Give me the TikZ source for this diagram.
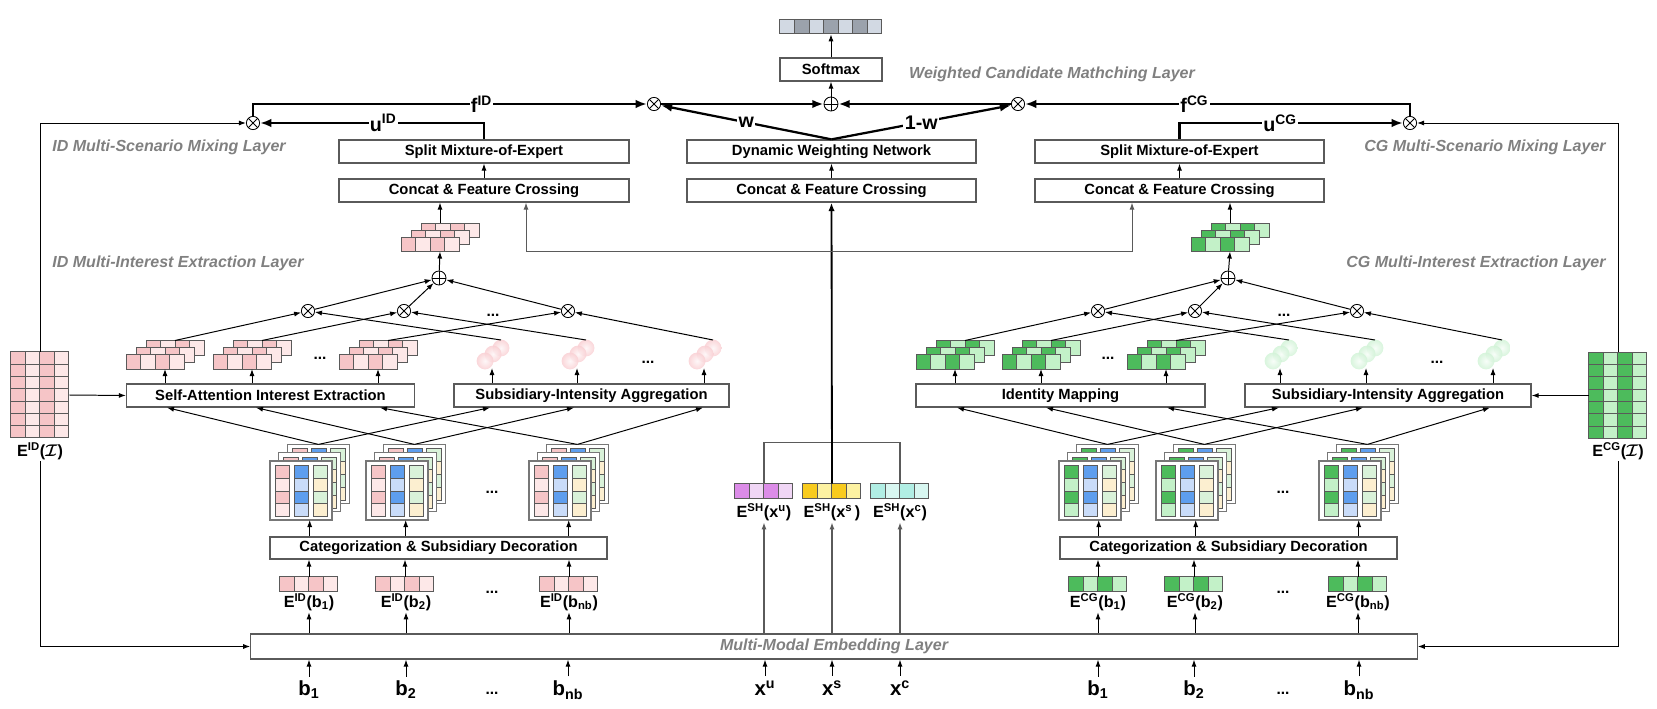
\documentclass[tikz,border=0pt]{standalone}
\usepackage{bm}
\usepackage{fontspec}
\setmainfont{Liberation Sans}
\usetikzlibrary{positioning,calc,arrows.meta}

\definecolor{idpink}{HTML}{F6C5C7}
\definecolor{idpinklt}{HTML}{FDE8E8}
\definecolor{cggreen}{HTML}{4DBB5C}
\definecolor{cggreenlt}{HTML}{C3F1C8}
\definecolor{catblue}{HTML}{5E9EEE}
\definecolor{catbluelt}{HTML}{C9DCF9}
\definecolor{catmint}{HTML}{D9F2D9}
\definecolor{catcream}{HTML}{FCEFD0}
\definecolor{smdark}{HTML}{9BA2AC}
\definecolor{smlight}{HTML}{D2D9E3}
\definecolor{shviolet}{HTML}{DC8CE8}
\definecolor{shvioletlt}{HTML}{F0D6F5}
\definecolor{shgold}{HTML}{F8CB1E}
\definecolor{shgoldlt}{HTML}{FDF2A2}
\definecolor{shteal}{HTML}{B1EEE4}
\definecolor{shteallt}{HTML}{D8F7F1}
\definecolor{blobpink}{HTML}{F7BFC4}
\definecolor{blobgreen}{HTML}{C2EFC9}
\definecolor{layergray}{HTML}{808080}
\definecolor{boxgray}{HTML}{5A5A5A}
\definecolor{framegray}{HTML}{777777}

% one embedding vector of four cells
\newcommand{\embvec}[5]{%
  \node[inner sep=0pt,minimum width=1.45cm,minimum height=0.375cm] (#1) at (#2,#3) {};
  \foreach \kk/\cl in {0/#4,1/#5,2/#4,3/#5}
    \draw[cell,fill=\cl] ($(#1.north west)+(\kk*14.5,0)$) rectangle ++(14.5,15);
}
% three stacked interest vectors
\newcommand{\intstack}[5]{%
  \foreach \sl in {2,1,0}
    \foreach \kk/\cl in {0/#4,1/#5,2/#4,3/#5}
      \draw[cell,fill=\cl] (#2+\sl*10+\kk*14.5,#3-\sl*7) rectangle ++(14.5,14.5);
  \coordinate (#1-t) at (#2+49,#3-14);
  \coordinate (#1-n) at (#2+39,#3-14);
  \coordinate (#1-b) at (#2+39,#3+14.5);
}
% three stacked decorated behaviour matrices
\newcommand{\catstack}[5]{%
  \foreach \sl in {2,1,0}{
    \begin{scope}[shift={(#2+\sl*8.7,#3-\sl*8.3)}]
      \draw[framegray,line width=0.9pt,fill=white] (0,0) rectangle (62,59);
      \foreach \rw/\ccA/\ccB/\ccC in {0/#4/catblue/catmint,1/#5/catbluelt/catcream,2/#4/catblue/catmint,3/#5/catbluelt/catcream}{
        \draw[cell,fill=\ccA] (5,4.3+\rw*12.8) rectangle ++(14.5,12.8);
        \draw[cell,fill=\ccB] (24,4.3+\rw*12.8) rectangle ++(14.5,12.8);
        \draw[cell,fill=\ccC] (43,4.3+\rw*12.8) rectangle ++(14.5,12.8);
      }
    \end{scope}
  }
  \coordinate (#1-t) at (#2+48.4,#3-16.6);
  \coordinate (#1-b) at (#2+39.7,#3+59);
}
% intensity blob
\newcommand{\blob}[4]{%
  \foreach \dx/\dy in {9/-7,1/-1,-7/6}
    \shade[inner color=#4!15,outer color=#4!75,opacity=0.85] (#2+\dx,#3+\dy) circle [radius=0.21cm];
  \coordinate (#1-t) at (#2+9,#3-15);
  \coordinate (#1-b) at (#2,#3+13);
}
% item embedding table
\newcommand{\bigmat}[5]{%
  \node[inner sep=0pt,minimum width=1.45cm,minimum height=2.15cm] (#1) at (#2,#3) {};
  \foreach \rw in {0,...,6}
    \foreach \kk/\cl in {0/#4,1/#5,2/#4,3/#5}
      \draw[cell,fill=\cl] ($(#1.north west)+(\kk*14.5,\rw*12.3)$) rectangle ++(14.5,12.3);
}
\newcommand{\itemset}{$\bm{\mathcal{I}}$}

\begin{document}
\begin{tikzpicture}[
    x=0.025cm,y=-0.025cm,
    layerbox/.style={draw=boxgray,line width=0.9pt,fill=white,minimum height=0.575cm,inner sep=0pt,font=\fontsize{10.5}{12}\selectfont\bfseries},
    layername/.style={text=layergray,inner sep=1pt,font=\fontsize{11.4}{13}\selectfont\bfseries\itshape},
    cell/.style={draw=boxgray,line width=0.5pt},
    otimes/.style={circle,draw,line width=0.6pt,fill=white,inner sep=0pt,minimum size=0.33cm,path picture={\draw[line width=0.6pt] (path picture bounding box.north west) -- (path picture bounding box.south east) (path picture bounding box.north east) -- (path picture bounding box.south west);}},
    oplus/.style={circle,draw,line width=0.6pt,fill=white,inner sep=0pt,minimum size=0.35cm,path picture={\draw[line width=0.6pt] (path picture bounding box.north) -- (path picture bounding box.south) (path picture bounding box.east) -- (path picture bounding box.west);}},
    lbl/.style={inner sep=1pt,font=\fontsize{11.5}{13}\selectfont\bfseries},
    inp/.style={inner sep=1pt,font=\fontsize{14.5}{16}\selectfont\bfseries},
    dots/.style={inner sep=1pt,font=\fontsize{11}{12}\selectfont\bfseries},
    wlabel/.style={fill=white,inner sep=1pt,font=\fontsize{14}{16}\selectfont\bfseries},
    conn/.style={line width=0.7pt,-{Latex[length=5pt,width=3.6pt]}},
    grayconn/.style={conn,draw=boxgray},
    thickconn/.style={line width=1.6pt,-{Latex[length=8pt,width=6pt]}}
]
    \useasboundingbox (0,0) rectangle (1657,709);

    % matching layer
    \node[inner sep=0pt,minimum width=2.55cm,minimum height=0.35cm] (probs) at (831,27) {};
    \foreach \kk/\cl in {0/smlight,1/smdark,2/smlight,3/smdark,4/smlight,5/smdark,6/smlight}
      \draw[cell,fill=\cl] ($(probs.north west)+(\kk*14.57,0)$) rectangle ++(14.57,14);
    \node[layerbox,minimum width=2.55cm] (softmax) at (831,69.5) {Softmax};
    \node[oplus] (sumtop) at (831,104) {};
    \node[otimes] (wid) at (654,104) {};
    \node[otimes] (wcg) at (1018,104) {};
    \node[otimes] (mixid) at (253,123) {};
    \node[otimes] (mixcg) at (1410,123) {};
    \node[layername] (nwcm) at (1052,74) {Weighted Candidate Mathching Layer};
    \node[layername] (nmixid) at (169,147) {ID Multi-Scenario Mixing Layer};
    \node[layername] (nmixcg) at (1485,147) {CG Multi-Scenario Mixing Layer};

    \node[layerbox,minimum width=7.25cm] (smoeid) at (484,151.5) {Split Mixture-of-Expert};
    \node[layerbox,minimum width=7.25cm] (concatid) at (484,190.5) {Concat \& Feature Crossing};
    \node[layerbox,minimum width=7.225cm] (dwn) at (831.5,151.5) {Dynamic Weighting Network};
    \node[layerbox,minimum width=7.225cm] (concatsh) at (831.5,190.5) {Concat \& Feature Crossing};
    \node[layerbox,minimum width=7.225cm] (smoecg) at (1179.5,151.5) {Split Mixture-of-Expert};
    \node[layerbox,minimum width=7.225cm] (concatcg) at (1179.5,190.5) {Concat \& Feature Crossing};

    % multi-interest extraction
    \node[layername] (nextid) at (178,263) {ID Multi-Interest Extraction Layer};
    \node[layername] (nextcg) at (1476,263) {CG Multi-Interest Extraction Layer};
    \intstack{outid}{401}{237}{idpink}{idpinklt}
    \intstack{outcg}{1191}{237}{cggreen}{cggreenlt}
    \node[oplus] (sumid) at (439,278) {};
    \node[oplus] (sumcg) at (1228,278) {};
    \node[otimes] (mulid1) at (308,311) {};
    \node[otimes] (mulid2) at (404,311) {};
    \node[otimes] (mulid3) at (568,311) {};
    \node[otimes] (mulcg1) at (1098,311) {};
    \node[otimes] (mulcg2) at (1195,311) {};
    \node[otimes] (mulcg3) at (1357,311) {};
    \node[dots] (dmulid) at (493,315) {...};
    \node[dots] (dmulcg) at (1284,315) {...};

    \intstack{isid1}{126}{354.5}{idpink}{idpinklt}
    \intstack{isid2}{213}{354.5}{idpink}{idpinklt}
    \intstack{isid3}{339}{354.5}{idpink}{idpinklt}
    \intstack{iscg1}{916}{354.5}{cggreen}{cggreenlt}
    \intstack{iscg2}{1002}{354.5}{cggreen}{cggreenlt}
    \intstack{iscg3}{1127}{354.5}{cggreen}{cggreenlt}
    \node[dots] (disid) at (320,358) {...};
    \node[dots] (discg) at (1108,358) {...};
    \blob{blid1}{492}{355}{blobpink}
    \blob{blid2}{577}{355}{blobpink}
    \blob{blid3}{704}{355}{blobpink}
    \blob{blcg1}{1280}{355}{blobgreen}
    \blob{blcg2}{1366}{355}{blobgreen}
    \blob{blcg3}{1493}{355}{blobgreen}
    \node[dots] (dblid) at (648,362) {...};
    \node[dots] (dblcg) at (1437,362) {...};

    \node[layerbox,minimum width=7.2cm] (sa) at (270.5,395.5) {Self-Attention Interest Extraction};
    \node[layerbox,minimum width=6.875cm] (siaid) at (591.5,395.5) {Subsidiary-Intensity Aggregation};
    \node[layerbox,minimum width=7.225cm] (im) at (1060.5,395.5) {Identity Mapping};
    \node[layerbox,minimum width=7.15cm] (siacg) at (1388,395.5) {Subsidiary-Intensity Aggregation};

    \bigmat{eidI}{40}{395}{idpink}{idpinklt}
    \bigmat{ecgI}{1618}{395.5}{cggreen}{cggreenlt}
    \node[lbl] (leidI) at (40,451) {E\textsuperscript{ID}(\itemset)};
    \node[lbl] (lecgI) at (1618,451) {E\textsuperscript{CG}(\itemset)};

    % categorization
    \catstack{csid1}{270}{461}{idpink}{idpinklt}
    \catstack{csid2}{366}{461}{idpink}{idpinklt}
    \catstack{csid3}{529}{461}{idpink}{idpinklt}
    \catstack{cscg1}{1059}{461}{cggreen}{cggreenlt}
    \catstack{cscg2}{1156}{461}{cggreen}{cggreenlt}
    \catstack{cscg3}{1319}{461}{cggreen}{cggreenlt}
    \node[dots] (dcsid) at (492,492) {...};
    \node[dots] (dcscg) at (1283,492) {...};
    \node[layerbox,minimum width=8.425cm,minimum height=0.55cm] (catid) at (438.5,548) {Categorization \& Subsidiary Decoration};
    \node[layerbox,minimum width=8.425cm,minimum height=0.55cm] (catcg) at (1228.5,548) {Categorization \& Subsidiary Decoration};

    % embeddings
    \embvec{eidb1}{309}{584.5}{idpink}{idpinklt}
    \embvec{eidb2}{405}{584.5}{idpink}{idpinklt}
    \embvec{eidb3}{569}{584.5}{idpink}{idpinklt}
    \embvec{ecgb1}{1098}{584.5}{cggreen}{cggreenlt}
    \embvec{ecgb2}{1194}{584.5}{cggreen}{cggreenlt}
    \embvec{ecgb3}{1358}{584.5}{cggreen}{cggreenlt}
    \node[lbl] (leidb1) at (309,602) {E\textsuperscript{ID}(b\textsubscript{1})};
    \node[lbl] (leidb2) at (406,602) {E\textsuperscript{ID}(b\textsubscript{2})};
    \node[lbl] (leidb3) at (569,602) {E\textsuperscript{ID}(b\textsubscript{nb})};
    \node[lbl] (lecgb1) at (1098,602) {E\textsuperscript{CG}(b\textsubscript{1})};
    \node[lbl] (lecgb2) at (1195,602) {E\textsuperscript{CG}(b\textsubscript{2})};
    \node[lbl] (lecgb3) at (1358,602) {E\textsuperscript{CG}(b\textsubscript{nb})};
    \node[dots] (deid) at (492,592) {...};
    \node[dots] (decg) at (1283,592) {...};

    \embvec{eshu}{764}{491.5}{shviolet}{shvioletlt}
    \embvec{eshs}{832}{491.5}{shgold}{shgoldlt}
    \embvec{eshc}{900}{491.5}{shteal}{shteallt}
    \node[lbl] (leshu) at (764,512) {E\textsuperscript{SH}(x\textsuperscript{u})};
    \node[lbl] (leshs) at (832,512) {E\textsuperscript{SH}(x\textsuperscript{s}\,)};
    \node[lbl] (leshc) at (900,512) {E\textsuperscript{SH}(x\textsuperscript{c})};

    \node[layerbox,minimum width=29.15cm,minimum height=0.625cm,text=layergray,font=\fontsize{11.4}{13}\selectfont\bfseries\itshape] (embed) at (834,646.5) {Multi-Modal Embedding Layer};

    % inputs
    \node[inp] (inb1) at (309,690) {b\textsubscript{1}};
    \node[inp] (inb2) at (406,690) {b\textsubscript{2}};
    \node[inp] (inb3) at (568,690) {b\textsubscript{nb}};
    \node[dots] (dinid) at (492,693) {...};
    \node[inp] (inxu) at (765,688) {x\textsuperscript{u}};
    \node[inp] (inxs) at (832,688) {x\textsuperscript{s}};
    \node[inp] (inxc) at (900,688) {x\textsuperscript{c}};
    \node[inp] (inc1) at (1098,690) {b\textsubscript{1}};
    \node[inp] (inc2) at (1194,690) {b\textsubscript{2}};
    \node[inp] (inc3) at (1359,690) {b\textsubscript{nb}};
    \node[dots] (dincg) at (1283,693) {...};

    % connectors, bottom up
    \foreach \nn in {inb1,inb2,inb3,inxu,inxs,inxc,inc1,inc2,inc3}
      \draw[conn,shorten <=2pt] (\nn.north) -- (embed.south -| \nn.north);
    \foreach \nn in {leidb1,leidb2,leidb3,lecgb1,lecgb2,lecgb3}
      \draw[conn] (embed.north -| \nn.south) -- (\nn.south);
    \foreach \nn in {leshu,leshs,leshc}
      \draw[grayconn,line width=0.9pt] (embed.north -| \nn.south) -- (\nn.south);
    \foreach \vv in {eidb1,eidb2,eidb3}
      \draw[conn] (\vv.north) -- (catid.south -| \vv.north);
    \foreach \vv in {ecgb1,ecgb2,ecgb3}
      \draw[conn] (\vv.north) -- (catcg.south -| \vv.north);
    \foreach \ss in {csid1,csid2,csid3}
      \draw[conn] (catid.north -| \ss-b) -- (\ss-b);
    \foreach \ss in {cscg1,cscg2,cscg3}
      \draw[conn] (catcg.north -| \ss-b) -- (\ss-b);

    \draw[conn] (csid1-t) -- (sa.south -| 167,0);
    \draw[conn] (csid2-t) -- (sa.south -| 256,0);
    \draw[conn] (csid3-t) -- (sa.south -| 380,0);
    \draw[conn] (csid1-t) -- (siaid.south -| 490,0);
    \draw[conn] (csid2-t) -- (siaid.south -| 574,0);
    \draw[conn] (csid3-t) -- (siaid.south -| 703,0);
    \draw[conn] (cscg1-t) -- (im.south -| 957,0);
    \draw[conn] (cscg2-t) -- (im.south -| 1046,0);
    \draw[conn] (cscg3-t) -- (im.south -| 1167,0);
    \draw[conn] (cscg1-t) -- (siacg.south -| 1279,0);
    \draw[conn] (cscg2-t) -- (siacg.south -| 1363,0);
    \draw[conn] (cscg3-t) -- (siacg.south -| 1490,0);

    \foreach \ii in {1,2,3}{
      \draw[conn] (sa.north -| isid\ii-b) -- (isid\ii-b);
      \draw[conn] (siaid.north -| blid\ii-b) -- (blid\ii-b);
      \draw[conn] (im.north -| iscg\ii-b) -- (iscg\ii-b);
      \draw[conn] (siacg.north -| blcg\ii-b) -- (blcg\ii-b);
      \draw[conn] (isid\ii-t) -- (mulid\ii);
      \draw[conn] (blid\ii-t) -- (mulid\ii);
      \draw[conn] (iscg\ii-t) -- (mulcg\ii);
      \draw[conn] (blcg\ii-t) -- (mulcg\ii);
      \draw[conn] (mulid\ii) -- (sumid);
      \draw[conn] (mulcg\ii) -- (sumcg);
    }
    \draw[conn] (sumid) -- (outid-b);
    \draw[conn] (sumcg) -- (outcg-b);
    \draw[conn] (outid-n) -- (concatid.south -| outid-n);
    \draw[conn] (outcg-n) -- (concatcg.south -| outcg-n);

    \draw[conn] (eidI.east) -- (sa.west);
    \draw[conn] (ecgI.west) -- (siacg.east);

    % shared features
    \draw[boxgray,line width=0.9pt] (eshu.north) -- ++(0,-41) -| (eshc.north);
    \coordinate (split) at (832,251);
    \draw[line width=1.3pt,-{Latex[length=6pt,width=4.5pt]}] (eshs.north) -- (concatsh.south);
    \draw[grayconn] (split) -| (concatid.south -| 526,0);
    \draw[grayconn] (split) -| (concatcg.south -| 1132,0);

    \draw[conn] (concatid) -- (smoeid);
    \draw[conn] (concatsh) -- (dwn);
    \draw[conn] (concatcg) -- (smoecg);

    % top
    \draw[thickconn] (smoeid.north) |- node[wlabel,pos=0.725] {u\textsuperscript{ID}} (mixid);
    \draw[thickconn] (smoecg.north) |- node[wlabel,pos=0.725] {u\textsuperscript{CG}} (mixcg);
    \draw[thickconn] (mixid) |- node[wlabel,pos=0.79] {f\textsuperscript{ID}} (wid);
    \draw[thickconn] (mixcg) |- node[wlabel,pos=0.78] {f\textsuperscript{CG}} (wcg);
    \draw[thickconn] (dwn.north) -- node[wlabel] {w} (wid);
    \draw[thickconn] (dwn.north) -- node[wlabel] {1-w} (wcg);
    \draw[thickconn] (wid) -- (sumtop);
    \draw[thickconn] (wcg) -- (sumtop);
    \draw[conn] (sumtop) -- (softmax);
    \draw[conn] (softmax) -- (probs);

    \draw[conn] (eidI.north) |- (mixid);
    \draw[conn] (ecgI.north) |- (mixcg);
    \draw[conn] (leidI.south) |- (embed.west);
    \draw[conn] (lecgI.south) |- (embed.east);
\end{tikzpicture}
\end{document}
